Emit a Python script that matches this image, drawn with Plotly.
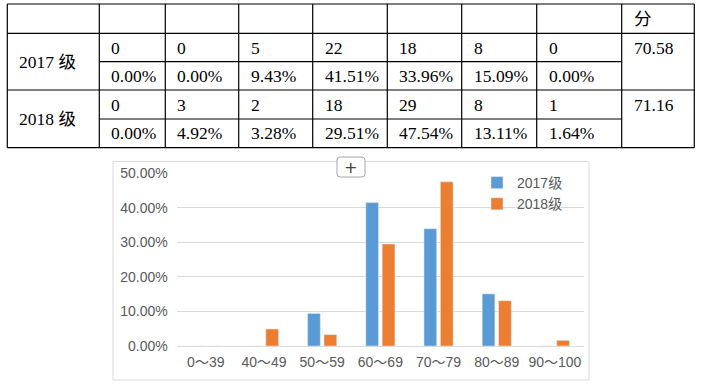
import plotly.graph_objects as go

# ---------------- data ----------------
categories = ["0～39", "40～49", "50～59", "60～69", "70～79", "80～89", "90～100"]
series_names = ["2017级", "2018级"]
row_labels = ["2017 级", "2018 级"]
counts_2017 = [0, 0, 5, 22, 18, 8, 0]
counts_2018 = [0, 3, 2, 18, 29, 8, 1]
pct_2017 = [0.00, 0.00, 9.43, 41.51, 33.96, 15.09, 0.00]
pct_2018 = [0.00, 4.92, 3.28, 29.51, 47.54, 13.11, 1.64]
avg_scores = [70.58, 71.16]
header_last = "分"
y_ticks = [0, 10, 20, 30, 40, 50]
y_tick_labels = [f"{v:.2f}%" for v in y_ticks]

W, H = 701, 391
def px(x):
    return x / W
def py(y):
    return 1 - y / H

BLUE = "#5B9BD5"
ORANGE = "#ED7D31"
GRID = "#D9D9D9"
TXT = "#595959"
CHART_FONT = "'Liberation Sans', 'Noto Sans CJK SC', sans-serif"
TABLE_FONT = "'Liberation Serif', 'Times New Roman', 'Noto Sans CJK SC', serif"

fig = go.Figure()
fig.add_trace(go.Bar(x=categories, y=pct_2017, name=series_names[0], marker_color=BLUE))
fig.add_trace(go.Bar(x=categories, y=pct_2018, name=series_names[1], marker_color=ORANGE))

shapes = []
annotations = []

# ---------------- table ----------------
col_edges = [7.3, 99.3, 165.3, 238.7, 312.7, 387.3, 461.7, 536.7, 621.7, 694.3]
row_edges = [4, 33.3, 61.7, 90, 119, 147.7]
LW = 1.2
for i, y in enumerate(row_edges):
    if i in (2, 4):
        x0, x1 = col_edges[1], col_edges[-2]
    else:
        x0, x1 = col_edges[0], col_edges[-1]
    shapes.append(dict(type="line", xref="paper", yref="paper", x0=px(x0), x1=px(x1),
                       y0=py(y), y1=py(y), line=dict(color="black", width=LW)))
for x in col_edges:
    shapes.append(dict(type="line", xref="paper", yref="paper", x0=px(x), x1=px(x),
                       y0=py(row_edges[0]), y1=py(row_edges[-1]), line=dict(color="black", width=LW)))

TFS = 17.5
def tbl_text(text, x, y):
    annotations.append(dict(text=text, xref="paper", yref="paper", x=px(x), y=py(y),
                            xanchor="left", yanchor="middle", showarrow=False,
                            font=dict(family=TABLE_FONT, size=TFS, color="black")))

tbl_text(header_last, col_edges[-2] + 10, (row_edges[0] + row_edges[1]) / 2)
all_counts = [counts_2017, counts_2018]
all_pcts = [pct_2017, pct_2018]
for r in range(2):
    top = row_edges[1 + 2 * r]
    mid = row_edges[2 + 2 * r]
    bot = row_edges[3 + 2 * r]
    tbl_text(row_labels[r], col_edges[0] + 10, (top + bot) / 2)
    for c in range(len(categories)):
        tbl_text(str(all_counts[r][c]), col_edges[1 + c] + 10, (top + mid) / 2)
        tbl_text(f"{all_pcts[r][c]:.2f}%", col_edges[1 + c] + 10, (mid + bot) / 2)
    tbl_text(f"{avg_scores[r]:.2f}", col_edges[-2] + 10, (top + mid) / 2)

# ---------------- chart frame ----------------
shapes.append(dict(type="rect", xref="paper", yref="paper", x0=px(113), x1=px(589),
                   y0=py(380), y1=py(161.5), line=dict(color=GRID, width=1), layer="below"))
# "+" button (rounded rect)
bx0, bx1, by0, by1, rr = 337, 365, 157, 177, 3
def P(x, y):
    return f"{px(x)},{py(y)}"
path = (f"M {P(bx0+rr,by0)} L {P(bx1-rr,by0)} Q {P(bx1,by0)} {P(bx1,by0+rr)} "
        f"L {P(bx1,by1-rr)} Q {P(bx1,by1)} {P(bx1-rr,by1)} L {P(bx0+rr,by1)} "
        f"Q {P(bx0,by1)} {P(bx0,by1-rr)} L {P(bx0,by0+rr)} Q {P(bx0,by0)} {P(bx0+rr,by0)} Z")
shapes.append(dict(type="path", xref="paper", yref="paper", path=path,
                   fillcolor="white", line=dict(color="#A6A6A6", width=1), layer="above"))
annotations.append(dict(text="+", xref="paper", yref="paper", x=px(351), y=py(167),
                        xanchor="center", yanchor="middle", showarrow=False,
                        font=dict(family="'DejaVu Sans', sans-serif", size=16, color="#404040")))

fig.update_layout(
    width=W, height=H,
    margin=dict(l=0, r=0, t=0, b=0, pad=0, autoexpand=False),
    paper_bgcolor="white", plot_bgcolor="white",
    barmode="group", bargap=0.436, bargroupgap=0.226,
    font=dict(family=CHART_FONT, size=14, color=TXT),
    shapes=shapes, annotations=annotations,
    legend=dict(x=px(477), y=py(167), xanchor="left", yanchor="top",
                bgcolor="rgba(0,0,0,0)", font=dict(size=14, color=TXT),
                tracegroupgap=0, itemwidth=30),
    showlegend=True,
)
fig.update_xaxes(domain=[px(176.7), px(584)], showgrid=False, showline=False,
                 zeroline=False, ticks="", tickfont=dict(size=14, color=TXT),
                 ticklabelstandoff=6, fixedrange=True)
fig.update_yaxes(domain=[py(346), py(173.3)], range=[0, 50], tickvals=y_ticks,
                 ticktext=y_tick_labels, showgrid=True, gridcolor=GRID,
                 gridwidth=1, zeroline=True, zerolinecolor=GRID, zerolinewidth=1,
                 showline=False, ticks="", tickfont=dict(size=14, color=TXT),
                 ticklabelstandoff=8, fixedrange=True)

fig.write_html("out.html", config={"displayModeBar": False},
               post_script="document.body.style.margin='0';")
